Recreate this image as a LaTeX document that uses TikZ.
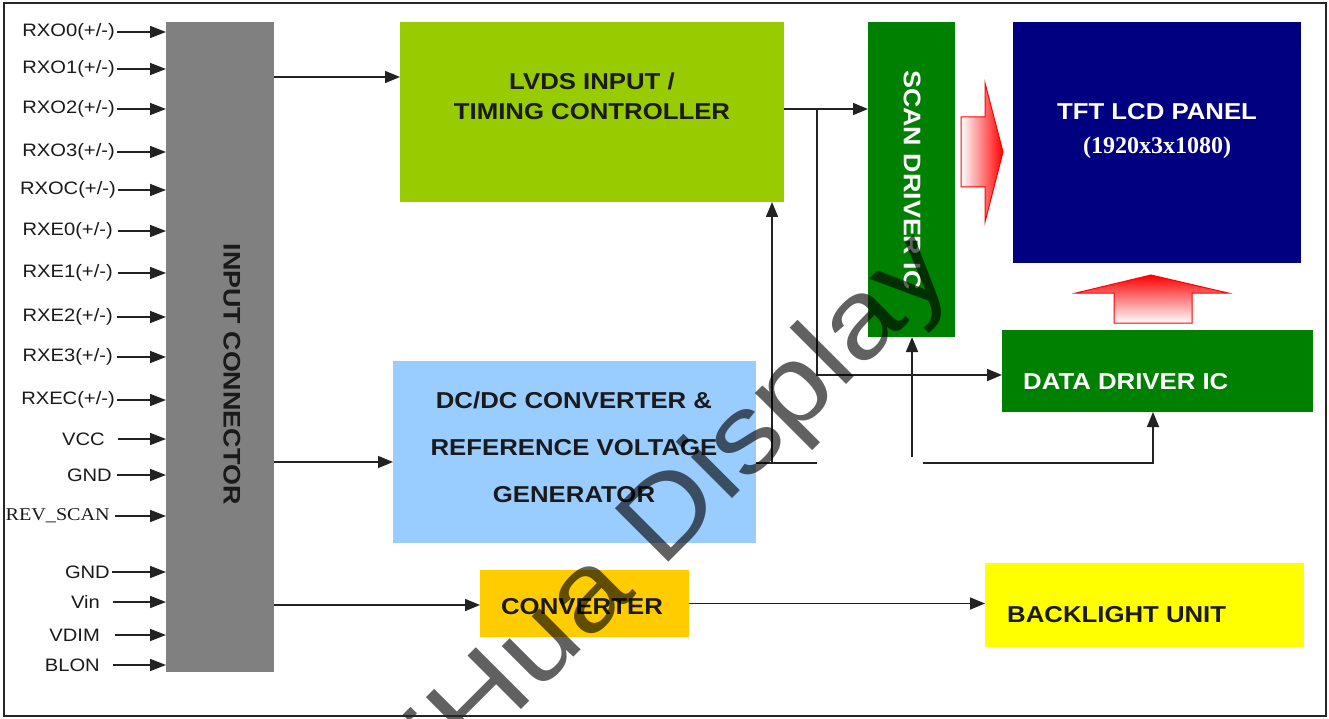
\documentclass[tikz,border=0pt]{standalone}
\usepackage{fontspec}
\setmainfont{Liberation Sans}
\newfontfamily\bx[FakeStretch=1.12]{Liberation Sans}
\newfontfamily\sx[FakeStretch=1.12]{Liberation Serif}
\newfontfamily\px{Liberation Serif}
\newfontfamily\wmf[FakeStretch=1.15]{Liberation Sans}
\usetikzlibrary{arrows.meta}
\definecolor{inpc}{HTML}{808080}
\definecolor{lvdsc}{HTML}{99CC00}
\definecolor{scanc}{HTML}{008000}
\definecolor{tftc}{HTML}{000080}
\definecolor{dcdcc}{HTML}{99CCFF}
\definecolor{convc}{HTML}{FFCC00}
\definecolor{blc}{HTML}{FFFF00}
\definecolor{linec}{HTML}{222222}
\definecolor{txtc}{HTML}{1A1A1A}
\newcommand\pinarrow[5]{%
  \node[pinlbl, anchor=east] (#1) at (#4,#3) {#2};
  \coordinate (#1s) at (#5,#3);
  \draw[arr, -{Triangle[length=16pt,width=12pt]}] (#1s) -- (#1s -| inp.west);}
\begin{document}
\begin{tikzpicture}[x=1pt,y=-1pt,
  box/.style={inner sep=0pt, outer sep=0pt, anchor=north west, draw=none},
  ln/.style={line width=1.6pt, draw=linec},
  arr/.style={ln, -{Triangle[length=15pt,width=12pt]}},
  pinlbl/.style={inner sep=0pt, text=txtc, font=\bx\fontsize{18}{20}\selectfont},
  btxt/.style={inner sep=0pt, align=center, text=txtc, font=\bx\bfseries\fontsize{23}{30}\selectfont},
  wtxt/.style={inner sep=0pt, align=center, text=white, font=\bx\bfseries\fontsize{23}{30}\selectfont},
  rtxt/.style={inner sep=0pt, rotate=-90, font=\bx\bfseries\fontsize{24}{28}\selectfont}
]
\useasboundingbox (0,0) rectangle (1329,719);
\fill[white] (0,0) rectangle (1329,719);

% boxes
\node[box, fill=inpc,  minimum width=108pt, minimum height=650pt] (inp)  at (166,22) {};
\node[box, fill=lvdsc, minimum width=384pt, minimum height=180pt] (lvds) at (400,22) {};
\node[box, fill=scanc, minimum width=87pt,  minimum height=315pt] (scan) at (868,22) {};
\node[box, fill=tftc,  minimum width=288pt, minimum height=241pt] (tft)  at (1013,22) {};
\node[box, fill=scanc, minimum width=311pt, minimum height=82pt]  (data) at (1002,330) {};
\node[box, fill=dcdcc, minimum width=363pt, minimum height=182pt] (dcdc) at (393,361) {};
\node[box, fill=convc, minimum width=209pt, minimum height=67pt]  (conv) at (480,570) {};
\node[box, fill=blc,   minimum width=319pt, minimum height=84pt]  (bl)   at (985,563) {};

% box texts
\node[rtxt, text=txtc] (inpT) at (232,374) {INPUT CONNECTOR};
\node[btxt] (lvdsT) at (592,96) {LVDS INPUT /\\TIMING CONTROLLER};
\node[rtxt, text=white] (scanT) at (912,180) {SCAN DRIVER IC};
\node[wtxt] (tftT) at (1157,112) {TFT LCD PANEL};
\node[inner sep=0pt, text=white, font=\px\bfseries\fontsize{24}{26}\selectfont] (tftR) at (1157,148) {(1920x3x1080)};
\node[wtxt, anchor=west] (dataT) at (1023,382) {DATA DRIVER IC};
\node[btxt, font=\bx\bfseries\fontsize{23}{47}\selectfont] (dcdcT) at (574,447) {DC/DC CONVERTER \&\\REFERENCE VOLTAGE\\GENERATOR};
\node[btxt] (convT) at (582,607) {CONVERTER};
\node[btxt, anchor=west] (blT) at (1007,615) {BACKLIGHT UNIT};

% red arrows
\path[draw=red, line width=1pt, left color=white, right color=red]
  (961,117) -- (985,117) -- (985,83) -- (1003,152) -- (985,222) -- (985,187) -- (961,187) -- cycle;
\path[draw=red, line width=1pt, bottom color=white, top color=red]
  (1114,323) -- (1114,293) -- (1076,293) -- (1151,275) -- (1228,293) -- (1192,293) -- (1192,323) -- cycle;

% input pins
\pinarrow{p1}{RXO0(+/-)}{32}{115}{117}
\pinarrow{p2}{RXO1(+/-)}{69}{115}{117}
\pinarrow{p3}{RXO2(+/-)}{109}{115}{117}
\pinarrow{p4}{RXO3(+/-)}{152}{115}{117}
\pinarrow{p5}{RXOC(+/-)}{190}{116}{118}
\pinarrow{p6}{RXE0(+/-)}{231}{113}{118}
\pinarrow{p7}{RXE1(+/-)}{273}{113}{118}
\pinarrow{p8}{RXE2(+/-)}{317}{113}{117}
\pinarrow{p9}{RXE3(+/-)}{357}{113}{117}
\pinarrow{p10}{RXEC(+/-)}{400}{115}{117}
\pinarrow{p11}{VCC}{439}{105}{118}
\pinarrow{p12}{GND}{475}{112}{117}
\pinarrow{p13}{\sx REV\_SCAN}{516}{110}{115}
\pinarrow{p14}{GND}{572}{110}{112}
\pinarrow{p15}{Vin}{602}{100}{113}
\pinarrow{p16}{VDIM}{635}{100}{115}
\pinarrow{p17}{BLON}{665}{100}{113}

% connectors
\coordinate (yA) at (0,77);
\coordinate (yB) at (0,462);
\coordinate (yC) at (0,605);
\coordinate (yD) at (0,109);
\coordinate (br1) at (817,109);
\coordinate (br1b) at (817,375);
\coordinate (dcEnd) at (817,463);
\coordinate (dcUp) at (772,463);
\coordinate (scanFoot) at (912,457);
\coordinate (dataL) at (923,463);
\coordinate (dataC) at (1153,463);

\draw[arr] (inp.east |- yA) -- (lvds.west |- yA);
\draw[arr] (inp.east |- yB) -- (dcdc.west |- yB);
\draw[arr] (inp.east |- yC) -- (conv.west |- yC);
\draw[arr] (conv.east) -- (conv.east -| bl.west);
\draw[arr] (lvds.east |- yD) -- (scan.west |- yD);
\draw[arr] (br1) -- (br1b) -- (br1b -| data.west);
\draw[ln] (dcdc.east |- dcEnd) -- (dcEnd);
\draw[arr] (dcUp) -- (dcUp |- lvds.south);
\draw[arr] (scanFoot) -- (scanFoot |- scan.south);
\draw[arr] (dataL) -- (dataC) -- (dataC |- data.south);

% watermark
\begin{scope}
\clip (0,0) rectangle (1329,719);
\node[rotate=45, anchor=base west, inner sep=0pt, text=black, text opacity=0.62,
      font=\wmf\fontsize{110}{110}\selectfont] (wm) at (408.2,822.8) {JiHua Display};
\end{scope}

% frame
\draw[line width=2pt, draw=black!85] (4,3) rectangle (1326,716);
\end{tikzpicture}
\end{document}
